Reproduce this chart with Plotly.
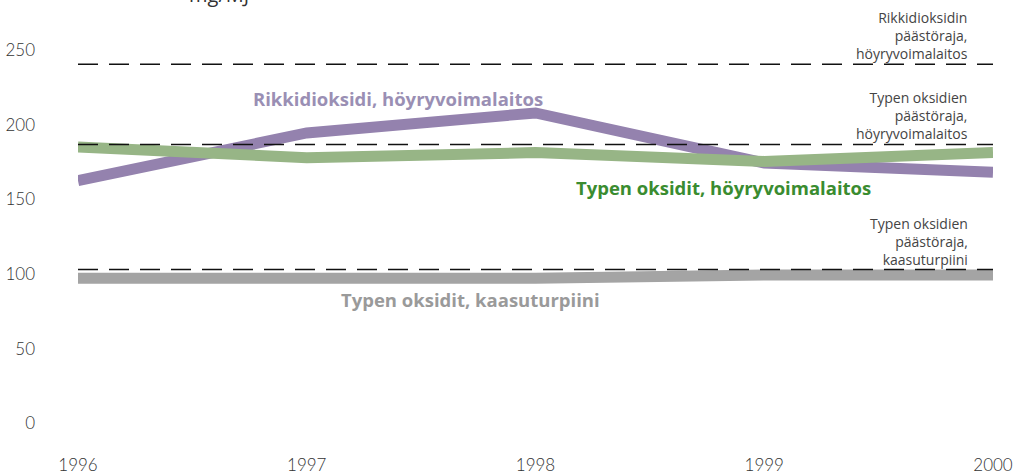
import plotly.graph_objects as go

years = [1996, 1997, 1998, 1999, 2000]
so2_steam = [162.6, 194.6, 208.0, 174.5, 168.3]
nox_steam = [185.2, 178.0, 181.4, 175.5, 181.4]
nox_gas = [97.2, 97.2, 97.2, 99.4, 99.4]

limit_so2_steam = 240.6
limit_nox_steam = 186.9
limit_nox_gas = 103.1

y_ticks = [0, 50, 100, 150, 200, 250]
y_ticktext = ["0", "50", "100", "150", "200", "250"]
x_ticks = [1996, 1997, 1998, 1999, 2000]

FONT = "Lato"
BFONT = "Open Sans"
PURPLE = "#9482ae"
GREEN = "#97b586"
GRAY = "#a4a4a4"

fig = go.Figure()

fig.add_trace(go.Scatter(x=years, y=so2_steam, mode="lines",
                         line=dict(color=PURPLE, width=11), hoverinfo="skip"))
fig.add_trace(go.Scatter(x=years, y=nox_steam, mode="lines",
                         line=dict(color=GREEN, width=11), hoverinfo="skip"))
fig.add_trace(go.Scatter(x=years, y=nox_gas, mode="lines",
                         line=dict(color=GRAY, width=11), hoverinfo="skip"))

for lim in [limit_so2_steam, limit_nox_steam, limit_nox_gas]:
    fig.add_trace(go.Scatter(x=[years[0], years[-1]], y=[lim, lim], mode="lines",
                             line=dict(color="#111111", width=1.5, dash="20px,11px"),
                             hoverinfo="skip"))

ann = []
ann.append(dict(x=1997.397, y=217.4, text="<b>Rikkidioksidi, höyryvoimalaitos</b>",
                font=dict(family=BFONT, size=18.5, color="#9a8fb4")))
ann.append(dict(x=1998.82, y=157.8, text="<b>Typen oksidit, höyryvoimalaitos</b>",
                font=dict(family=BFONT, size=18.5, color="#3a8c30")))
ann.append(dict(x=1997.718, y=82.7, text="<b>Typen oksidit, kaasuturpiini</b>",
                font=dict(family=BFONT, size=18.5, color="#9a9a9a")))
for yv, txt in [(259.6, "Rikkidioksidin<br>päästöraja,<br>höyryvoimalaitos"),
                (206.6, "Typen oksidien<br>päästöraja,<br>höyryvoimalaitos"),
                (121.5, "Typen oksidien<br>päästöraja,<br>kaasuturpiini")]:
    ann.append(dict(x=1999.899, y=yv, text=txt, xanchor="right", align="right",
                    font=dict(family=BFONT, size=14, color="#444444")))
for a in ann:
    a.setdefault("xanchor", "center")
    a["yanchor"] = "middle"
    a["showarrow"] = False
    a["xref"] = "x"
    a["yref"] = "y"

ann.append(dict(x=1996.616, y=1.006, xref="x", yref="paper", yanchor="bottom",
                text="mg/MJ", showarrow=False,
                font=dict(family=BFONT, size=20, color="#333333")))

fig.update_layout(
    width=1013, height=475,
    margin=dict(l=78, r=20, t=13, b=22),
    paper_bgcolor="white", plot_bgcolor="white",
    showlegend=False,
    annotations=ann,
    xaxis=dict(range=[1996, 2000], tickvals=x_ticks, ticktext=[str(v) for v in x_ticks],
               showgrid=False, zeroline=False, showline=False, ticks="",
               automargin=False,
               tickfont=dict(family=FONT, size=17, color="#333333", weight=300)),
    yaxis=dict(range=[-20, 275], tickvals=y_ticks, ticktext=y_ticktext,
               showgrid=False, zeroline=False, showline=False, ticks="",
               automargin=False, ticklabelstandoff=42,
               tickfont=dict(family=FONT, size=17, color="#333333", weight=300)),
)

fig.write_html("out.html", config={"displayModeBar": False},
               post_script="document.body.style.margin='0';document.body.style.overflow='hidden';")
